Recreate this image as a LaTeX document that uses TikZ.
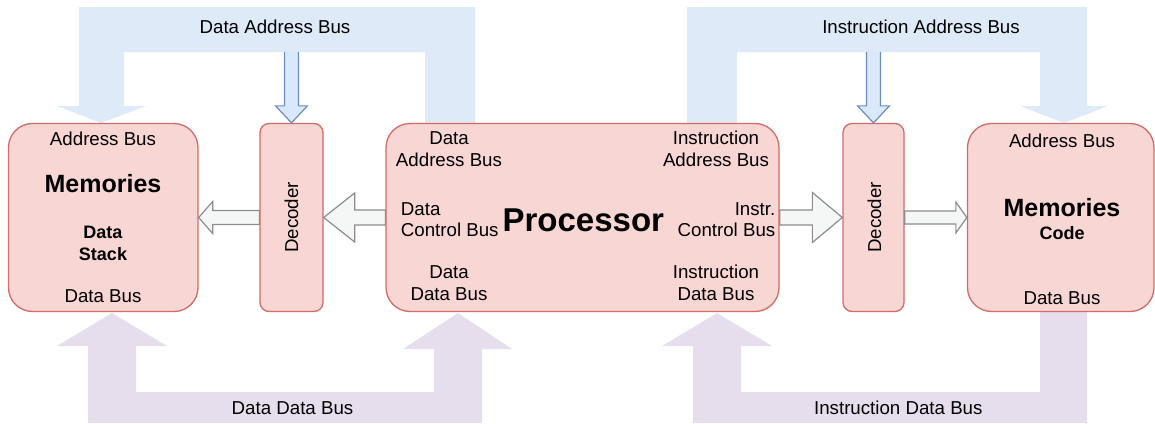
\documentclass[tikz,border=0pt]{standalone}
\usepackage{fontspec}
\setmainfont{Liberation Sans}
\usetikzlibrary{calc}

\definecolor{boxfill}{HTML}{F8D6D4}
\definecolor{boxline}{HTML}{D06B66}
\definecolor{addrbus}{HTML}{DEEAF7}
\definecolor{databus}{HTML}{E7DEED}
\definecolor{tapfill}{HTML}{DAE8FC}
\definecolor{tapline}{HTML}{6C8EBF}
\definecolor{arrfill}{HTML}{F5F7F6}
\definecolor{arrline}{HTML}{8C8C8C}

% hollow block arrow: from, to, shaft half width, head half width, head length
\newcommand\hollowarrow[5]{%
  \path[hollow] let \p1=(#1), \p2=(#2), \n1={sign(\x2-\x1)} in
    (\x1,\y1+#3) -- (\x2-\n1*#5,\y1+#3) -- (\x2-\n1*#5,\y1+#4) -- (\x2,\y1)
    -- (\x2-\n1*#5,\y1-#4) -- (\x2-\n1*#5,\y1-#3) -- (\x1,\y1-#3) -- cycle;}

\begin{document}
\begin{tikzpicture}[x=1pt,y=-1pt,
 block/.style={draw=boxline,fill=boxfill,line width=1.3pt,rounded corners=24pt,minimum height=188pt,inner sep=0pt},
 decoder/.style={block,rounded corners=9pt},
 hollow/.style={draw=arrline,fill=arrfill,line width=1.2pt,line join=miter},
 tap/.style={draw=tapline,fill=tapfill,line width=1.2pt},
 txt/.style={font=\fontsize{18.7}{21.7}\selectfont,inner sep=0pt,anchor=base,align=center},
 bold/.style={txt,font=\fontsize{18}{22.4}\selectfont\bfseries},
 title/.style={txt,font=\fontsize{25}{30}\selectfont\bfseries},
 bigtitle/.style={txt,font=\fontsize{33}{38}\selectfont\bfseries}]
\useasboundingbox (0,0) rectangle (1155,423);

% buses
\fill[addrbus] (79,7) -- (475,7) -- (475,130) -- (425,130) -- (425,52) -- (124,52) -- (124,106)
  -- (146,106) -- (101,123) -- (57,106) -- (79,106) -- cycle;
\fill[addrbus] (687,7) -- (1087,7) -- (1087,106) -- (1108,106) -- (1064,123) -- (1020,106)
  -- (1040,106) -- (1040,52) -- (737,52) -- (737,130) -- (687,130) -- cycle;
\fill[databus] (88,423) -- (88,346) -- (57,346) -- (112,313) -- (167,346) -- (136,346) -- (136,392)
  -- (434,392) -- (434,349) -- (403,349) -- (458,313) -- (512,349) -- (482,349) -- (482,423) -- cycle;
\fill[databus] (693,423) -- (693,346) -- (662,346) -- (717,313) -- (772,346) -- (741,346) -- (741,392)
  -- (1040,392) -- (1040,305) -- (1087,305) -- (1087,423) -- cycle;

\node[block,minimum width=189.5pt] (memL) at (103.25,217.5) {};
\node[decoder,minimum width=63pt] (decL) at (291.5,217.5) {};
\node[block,minimum width=393pt] (proc) at (582.5,217.5) {};
\node[decoder,minimum width=61pt] (decR) at (873.5,217.5) {};
\node[block,minimum width=186.5pt] (memR) at (1060.75,217.5) {};

\path[tap] ($(decL.north)+(-7,-71)$) -- ++(0,54) -- ++(-9,0) -- (decL.north) -- ++(16,-17) -- ++(-9,0) -- ++(0,-54);
\path[tap] ($(decR.north)+(-7,-71)$) -- ++(0,54) -- ++(-9,0) -- (decR.north) -- ++(16,-17) -- ++(-9,0) -- ++(0,-54);

\node[txt] (dab) at (275,33.3) {Data Address Bus};
\node[txt] (iab) at (921,33.3) {Instruction Address Bus};
\node[txt] (ddb) at (292.5,414.3) {Data Data Bus};
\node[txt] (idb) at (898.3,414.3) {Instruction Data Bus};

\node[txt] (memLaddr) at (103,145.7) {Address Bus};
\node[title] (memLname) at (103,192.3) {Memories};
\node[bold] (memLkind) at (103,260.7) {Data\\Stack};
\node[txt] (memLdata) at (103,302.7) {Data Bus};

\node[txt,rotate=90,anchor=center] (decLname) at (decL) {Decoder};
\node[txt,rotate=90,anchor=center] (decRname) at ($(decR)+(1,0)$) {Decoder};

\node[txt] (procda) at (449,166) {Data\\Address Bus};
\node[txt] (procia) at (716,166) {Instruction\\Address Bus};
\node[txt,align=left,anchor=base west] (procdc) at (400.7,236.7) {Data\\Control Bus};
\node[bigtitle] (procname) at (583.3,231) {Processor};
\node[txt,align=right,anchor=base east] (procic) at (775.5,236.7) {Instr.\\Control Bus};
\node[txt] (procdd) at (449,300) {Data\\Data Bus};
\node[txt] (procid) at (716,300) {Instruction\\Data Bus};

\node[txt] (memRaddr) at (1062,147.3) {Address Bus};
\node[title] (memRname) at (1062,216.7) {Memories};
\node[bold] (memRkind) at (1062,239.3) {Code};
\node[txt] (memRdata) at (1062,304) {Data Bus};

\hollowarrow{decL.west}{memL.east}{7}{16}{14}
\hollowarrow{proc.west}{decL.east}{7.5}{24.5}{31}
\hollowarrow{proc.east}{decR.west}{7.5}{25}{30}
\hollowarrow{decR.east}{memR.west}{6.5}{15.5}{11}
\end{tikzpicture}
\end{document}
